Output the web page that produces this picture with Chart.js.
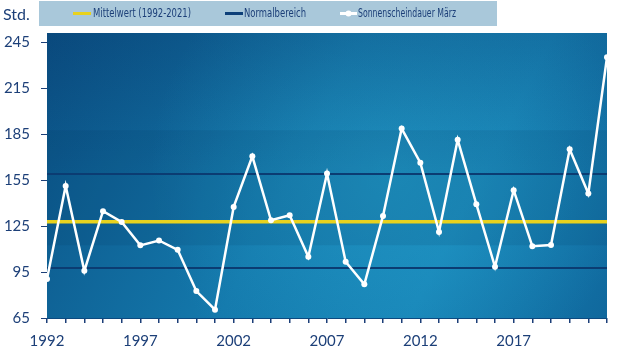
<!DOCTYPE html>
<html>
<head>
<meta charset="utf-8">
<script src="https://cdn.jsdelivr.net/npm/chart.js@4/dist/chart.umd.min.js"></script>
<style>
  html, body { margin: 0; padding: 0; background: #ffffff; }
  #wrap { width: 632px; height: 355px; }
</style>
</head>
<body>
<div id="wrap"><canvas id="c" width="632" height="355"></canvas></div>
<script>
// ---- data ----
const years = [1992,1993,1994,1995,1996,1997,1998,1999,2000,2001,2002,2003,2004,2005,2006,2007,2008,2009,2010,2011,2012,2013,2014,2015,2016,2017,2018,2019,2020,2021,2022];
const sunshine = [90.4,151.2,95.8,134.7,127.7,112.4,115.6,109.5,82.6,70.4,137.5,170.5,128.8,132.1,104.9,159.3,101.7,87.0,131.6,188.6,166.4,121.2,181.4,139.3,98.4,148.4,111.9,112.6,175.1,146.2,235.2];
const meanValue = [127.8];
const normalRange = [97.6, 159.0];
const shadedBand = [112.5, 187.5];
const yTicks = [65, 95, 125, 155, 185, 215, 245];
const xLabelYears = [1992, 1997, 2002, 2007, 2012, 2017];
const legendLabels = ['Mittelwert (1992-2021)', 'Normalbereich', 'Sonnenscheindauer März'];
const unitLabel = 'Std.';

const NAVY = '#1c3f78';
const FONT = 'Lato, "Open Sans", sans-serif';
const LEGEND_FONT = '"Liberation Sans Narrow", "DejaVu Sans Condensed", Lato, sans-serif';
const firstYear = years[0], lastYear = years[years.length - 1];

function flat(v) { return [{x: firstYear, y: v}, {x: lastYear, y: v}]; }

const bgPlugin = {
  id: 'bg',
  beforeDatasetsDraw(chart) {
    const {ctx, chartArea: a, scales} = chart;
    ctx.save();
    let g = ctx.createLinearGradient(a.left, a.top, a.right, a.bottom);
    g.addColorStop(0, '#0b5286');
    g.addColorStop(0.45, '#1479ac');
    g.addColorStop(0.72, '#1783b6');
    g.addColorStop(1, '#10689d');
    ctx.fillStyle = g;
    ctx.fillRect(a.left, a.top, a.right - a.left, a.bottom - a.top);
    // soft glow
    let r = ctx.createRadialGradient(390, 170, 10, 390, 170, 240);
    r.addColorStop(0, 'rgba(45,175,215,0.38)');
    r.addColorStop(1, 'rgba(45,175,215,0)');
    ctx.fillStyle = r;
    ctx.fillRect(a.left, a.top, a.right - a.left, a.bottom - a.top);
    // top darkening
    let t = ctx.createLinearGradient(0, a.top, 0, a.bottom);
    t.addColorStop(0, 'rgba(5,40,90,0.22)');
    t.addColorStop(0.5, 'rgba(5,40,90,0)');
    t.addColorStop(1, 'rgba(5,40,90,0)');
    ctx.fillStyle = t;
    ctx.fillRect(a.left, a.top, a.right - a.left, a.bottom - a.top);
    // band
    const y1 = scales.y.getPixelForValue(shadedBand[1]);
    const y0 = scales.y.getPixelForValue(shadedBand[0]);
    ctx.fillStyle = 'rgba(0,35,80,0.10)';
    ctx.fillRect(a.left, y1, a.right - a.left, y0 - y1);
    ctx.restore();
  },
  afterDraw(chart) {
    const ctx = chart.ctx;
    ctx.save();
    // unit label
    ctx.fillStyle = NAVY;
    ctx.font = '16px ' + FONT;
    ctx.textBaseline = 'middle';
    ctx.textAlign = 'left';
    ctx.fillText(unitLabel, 3, 15);
    // legend box
    ctx.fillStyle = '#a9c8da';
    ctx.fillRect(39, 1, 458, 25);
    const ly = 13.5;
    const items = [
      {x0: 73, x1: 91, tx: 93, w: 98, color: '#e8d21e', lw: 3, dot: false},
      {x0: 225, x1: 243, tx: 244, w: 62, color: '#0d3f78', lw: 3, dot: false},
      {x0: 340, x1: 357, tx: 358, w: 98, color: '#ffffff', lw: 3, dot: true}
    ];
    items.forEach((it, i) => {
      ctx.strokeStyle = it.color;
      ctx.lineWidth = it.lw;
      ctx.beginPath();
      ctx.moveTo(it.x0, ly);
      ctx.lineTo(it.x1, ly);
      ctx.stroke();
      if (it.dot) {
        ctx.fillStyle = '#ffffff';
        ctx.beginPath();
        ctx.arc((it.x0 + it.x1) / 2, ly, 3, 0, Math.PI * 2);
        ctx.fill();
      }
      ctx.fillStyle = NAVY;
      ctx.font = '13px ' + LEGEND_FONT;
      ctx.textBaseline = 'middle';
      ctx.fillText(legendLabels[i], it.tx, ly, it.w);
    });
    ctx.restore();
  }
};

new Chart(document.getElementById('c'), {
  type: 'line',
  data: {
    datasets: [
      {
        label: legendLabels[0],
        data: flat(meanValue[0]),
        borderColor: '#e8d21e',
        borderWidth: 3.5,
        pointRadius: 0,
        order: 2
      },
      {
        label: legendLabels[1],
        data: flat(normalRange[1]),
        borderColor: '#0b3c72',
        borderWidth: 2,
        pointRadius: 0,
        order: 3
      },
      {
        label: legendLabels[1] + ' unten',
        data: flat(normalRange[0]),
        borderColor: '#0b3c72',
        borderWidth: 2,
        pointRadius: 0,
        order: 3
      },
      {
        label: legendLabels[2],
        data: years.map((y, i) => ({x: y, y: sunshine[i]})),
        borderColor: '#ffffff',
        borderWidth: 2.5,
        pointRadius: 3,
        pointBackgroundColor: '#ffffff',
        pointBorderColor: '#ffffff',
        pointBorderWidth: 0,
        tension: 0,
        order: 1
      }
    ]
  },
  options: {
    responsive: false,
    animation: false,
    devicePixelRatio: 1,
    layout: { padding: { top: 33, right: 25, left: 0, bottom: 0 } },
    plugins: { legend: { display: false }, tooltip: { enabled: false } },
    scales: {
      x: {
        type: 'linear',
        min: firstYear,
        max: lastYear,
        afterBuildTicks(scale) {
          scale.ticks = years.map(v => ({value: v}));
        },
        afterFit(scale) { scale.height = 37; },
        ticks: {
          autoSkip: false,
          maxRotation: 0,
          padding: 9,
          color: NAVY,
          font: { family: FONT, size: 15 },
          callback(v) { return xLabelYears.includes(v) ? String(v) : ''; }
        },
        grid: { drawOnChartArea: false, drawTicks: true, tickLength: 5, color: NAVY, lineWidth: 1.5 },
        border: { display: true, color: '#0c4a80', width: 1 }
      },
      y: {
        type: 'linear',
        min: 65,
        max: 251,
        afterBuildTicks(scale) {
          scale.ticks = yTicks.map(v => ({value: v}));
        },
        afterFit(scale) { scale.width = 47; },
        ticks: {
          padding: 11,
          color: NAVY,
          font: { family: FONT, size: 15 }
        },
        grid: { drawOnChartArea: false, drawTicks: true, tickLength: 6, color: NAVY, lineWidth: 1 },
        border: { display: true, color: '#0c4a80', width: 1 }
      }
    }
  },
  plugins: [bgPlugin]
});
</script>
</body>
</html>
